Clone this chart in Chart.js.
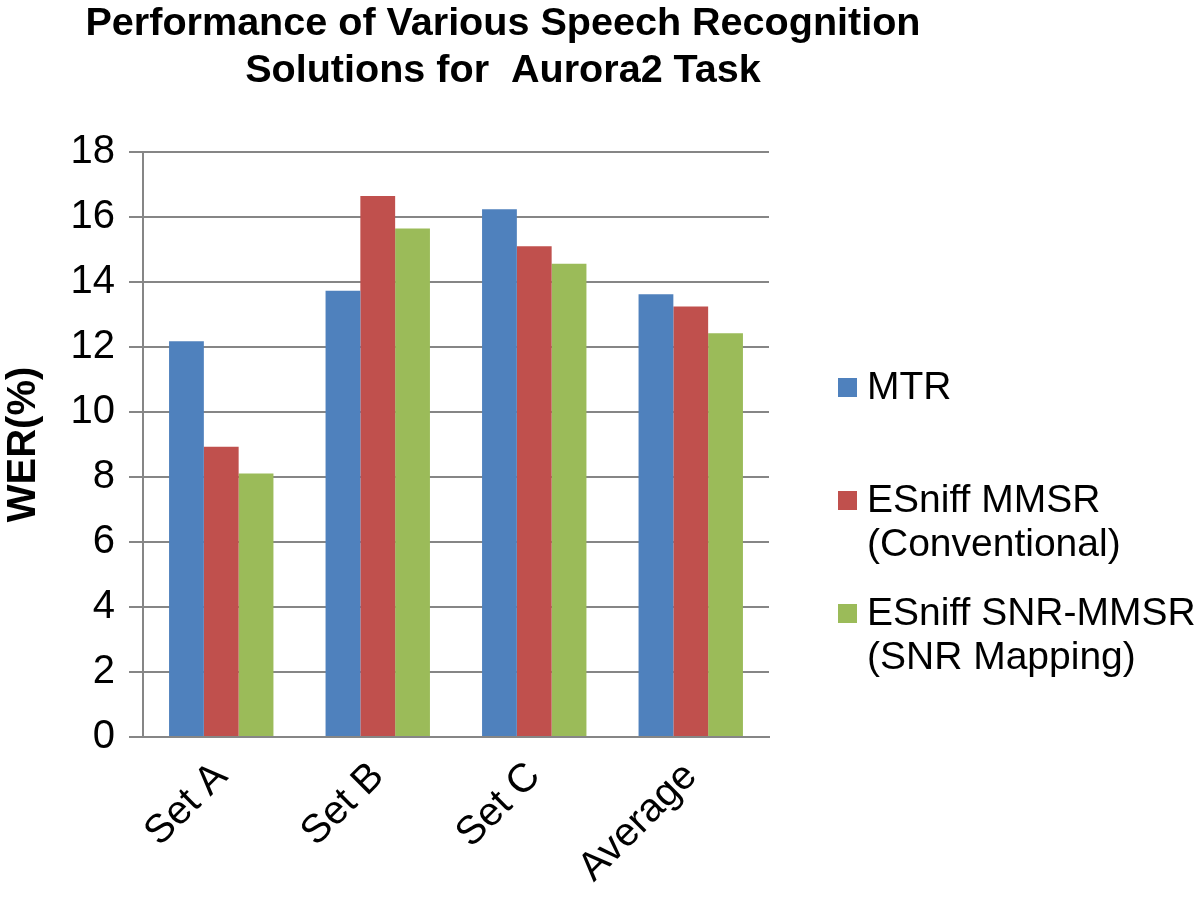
<!DOCTYPE html>
<html>
<head>
<meta charset="utf-8">
<script src="https://cdn.jsdelivr.net/npm/chart.js@4.4.1/dist/chart.umd.min.js"></script>
<style>
  html, body { margin: 0; padding: 0; background: #fff; }
  #wrap { width: 1200px; height: 907px; }
</style>
</head>
<body>
<div id="wrap"><canvas id="c" width="1200" height="907"></canvas></div>
<script>
const categories = ["Set A", "Set B", "Set C", "Average"];
const mtr = [12.18, 13.73, 16.24, 13.62];
const esniffMmsr = [8.93, 16.65, 15.1, 13.25];
const esniffSnrMmsr = [8.11, 15.65, 14.56, 12.42];
const seriesLines = [
	["MTR"],
	["ESniff MMSR", "(Conventional)"],
	["ESniff SNR-MMSR", "(SNR Mapping)"],
];
const titleLines = ["Performance of Various Speech Recognition", "Solutions for  Aurora2 Task"];
const yTicks = [0, 2, 4, 6, 8, 10, 12, 14, 16, 18];

const gridGray = "#868686";
const font = "'Liberation Sans', Arial, sans-serif";

// title + side legend drawn by hand (two-line legend labels)
const decor = {
	id: "decor",
	afterDraw(chart) {
		const ctx = chart.ctx;
		const area = chart.chartArea;
		ctx.save();
		ctx.fillStyle = "#000";
		ctx.textBaseline = "alphabetic";

		// title
		ctx.font = "bold 38px " + font;
		const w0 = ctx.measureText(titleLines[0]).width;
		const sx = 835 / w0;
		titleLines.forEach((t, i) => {
			ctx.save();
			ctx.translate(503, 35 + i * 47);
			ctx.scale(sx, 1);
			ctx.textAlign = "center";
			ctx.fillText(t, 0, 0);
			ctx.restore();
		});

		// legend
		ctx.font = "39px " + font;
		ctx.textAlign = "left";
		chart.data.datasets.forEach((ds, i) => {
			const base = 399 + i * 113;
			ctx.fillStyle = ds.backgroundColor;
			ctx.fillRect(area.right + 69, base - 21, 19, 19);
			ctx.fillStyle = "#000";
			seriesLines[i].forEach((line, j) => {
				ctx.fillText(line, area.right + 98, base + j * 44);
			});
		});
		ctx.restore();
	},
};

new Chart(document.getElementById("c"), {
	type: "bar",
	data: {
		labels: categories,
		datasets: [
			{ label: seriesLines[0].join(" "), data: mtr, backgroundColor: "#4F81BD" },
			{ label: seriesLines[1].join(" "), data: esniffMmsr, backgroundColor: "#C0504D" },
			{ label: seriesLines[2].join(" "), data: esniffSnrMmsr, backgroundColor: "#9BBB59" },
		],
	},
	options: {
		responsive: false,
		animation: false,
		layout: { padding: { left: 0, right: 431, top: 152, bottom: 0 } },
		datasets: { bar: { categoryPercentage: 0.667, barPercentage: 1.0 } },
		plugins: {
			legend: { display: false },
			title: { display: false },
			tooltip: { enabled: false },
		},
		scales: {
			x: {
				grid: { display: false },
				border: { display: true, color: gridGray, width: 2 },
				ticks: {
					color: "#000",
					font: { family: font, size: 40 },
					minRotation: 45,
					maxRotation: 45,
					padding: 8,
				},
				afterFit(scale) { scale.height = 170; },
			},
			y: {
				min: 0,
				max: 18,
				afterBuildTicks(scale) { scale.ticks = yTicks.map(v => ({ value: v })); },
				grid: { color: gridGray, lineWidth: 2, tickLength: 14, drawTicks: true },
				border: { display: true, color: gridGray, width: 2 },
				ticks: {
					color: "#000",
					font: { family: font, size: 40 },
					padding: 14,
				},
				title: {
					display: true,
					text: "WER(%)",
					color: "#000",
					font: { family: font, size: 40, weight: "bold" },
					padding: 0,
				},
				afterFit(scale) { scale.width = 143; },
			},
		},
	},
	plugins: [decor],
});
</script>
</body>
</html>
